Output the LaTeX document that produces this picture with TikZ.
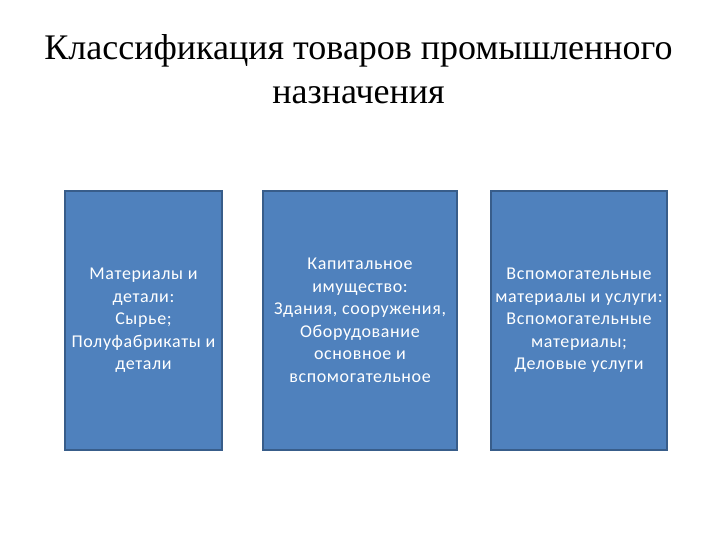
\documentclass[tikz,border=0pt]{standalone}
\usepackage{fontspec}
\setmainfont{Liberation Serif}
\newfontfamily\boxfont[LetterSpace=3.5]{Carlito}
\usetikzlibrary{positioning}
\definecolor{boxfill}{HTML}{4F81BD}
\definecolor{boxline}{HTML}{385D8A}
\tikzset{tovarbox/.style={rectangle, draw=boxline, line width=1.6pt, fill=boxfill,
  minimum height=259pt, inner sep=0pt, align=center, text=white,
  font=\boxfont\fontsize{18}{22.5}\selectfont}}
\tikzset{title/.style={align=center, font=\fontsize{36}{44}\selectfont}}

\begin{document}
\begin{tikzpicture}[x=1pt,y=-1pt]
    \useasboundingbox (0,0) rectangle (720,540);
    % title
    \node[title] (head) at (358.5,69) {Классификация товаров промышленного\\назначения};
    % three groups
    \node[tovarbox, minimum width=157pt] (mat) at (143.5,320.5)
        {Материалы и\\детали:\\Сырье;\\Полуфабрикаты и\\детали};
    \node[tovarbox, minimum width=194pt] (kap) at (360,320.5)
        {Капитальное\\имущество:\\Здания, сооружения,\\Оборудование\\основное и\\вспомогательное};
    \node[tovarbox, minimum width=176pt] (vsp) at (579,320.5)
        {Вспомогательные\\материалы и услуги:\\Вспомогательные\\материалы;\\Деловые услуги};
\end{tikzpicture}
\end{document}
